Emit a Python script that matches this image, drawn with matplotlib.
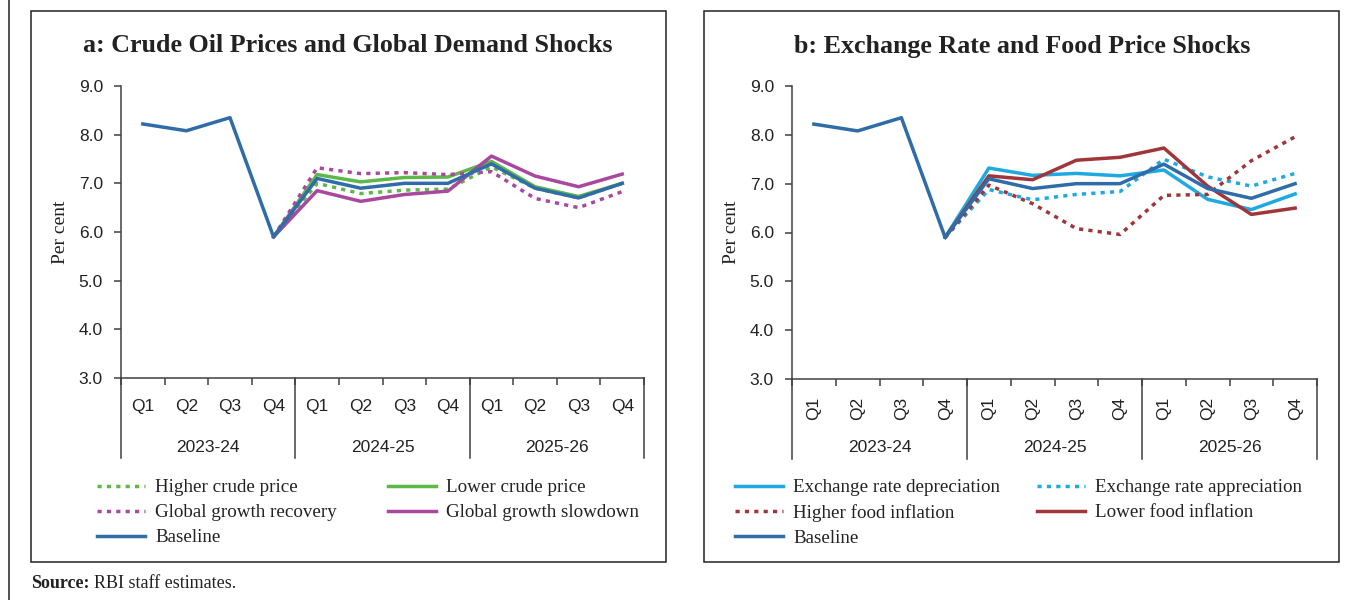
import numpy as np
import matplotlib
matplotlib.use('Agg')
import matplotlib.pyplot as plt
from matplotlib.lines import Line2D
from matplotlib.patches import Rectangle
from matplotlib.ticker import FormatStrFormatter

nan = np.nan

# categories
quarters = ['Q1', 'Q2', 'Q3', 'Q4'] * 3
years = ['2023-24', '2024-25', '2025-26']

# common baseline (per cent)
baseline = [8.22, 8.08, 8.35, 5.90, 7.10, 6.90, 7.00, 7.00, 7.40, 6.90, 6.70, 7.00]

# panel a: crude oil and global demand shocks
higher_crude = [nan, nan, nan, 5.90, 7.00, 6.79, 6.86, 6.88, 7.34, 6.90, 6.70, 7.00]
lower_crude = [nan, nan, nan, 5.90, 7.18, 7.03, 7.12, 7.13, 7.45, 6.93, 6.73, 7.00]
growth_recovery = [nan, nan, nan, 5.90, 7.32, 7.20, 7.22, 7.18, 7.24, 6.69, 6.50, 6.83]
growth_slowdown = [nan, nan, nan, 5.90, 6.85, 6.63, 6.77, 6.84, 7.56, 7.15, 6.93, 7.19]

# panel b: exchange rate and food price shocks
er_depreciation = [nan, nan, nan, 5.90, 7.32, 7.17, 7.21, 7.16, 7.28, 6.68, 6.47, 6.79]
er_appreciation = [nan, nan, nan, 5.90, 6.88, 6.67, 6.78, 6.84, 7.50, 7.14, 6.95, 7.21]
higher_food = [nan, nan, nan, 5.90, 6.97, 6.59, 6.08, 5.96, 6.76, 6.78, 7.47, 7.96]
lower_food = [nan, nan, nan, 5.90, 7.16, 7.08, 7.48, 7.54, 7.73, 6.95, 6.37, 6.50]

W, H = 1358, 600
AXCOL = '#404040'
BLUE = '#2F6CA8'
GREEN = '#5DB947'
PURPLE = '#A9489F'
SKY = '#1FA9E1'
RED = '#A0353A'
SERIF = ['Liberation Serif', 'DejaVu Serif']
NARROW = ['Liberation Sans Narrow', 'Liberation Sans', 'DejaVu Sans']
DOT = (0, (1.2, 1.5))
LW = 2.5

fig = plt.figure(figsize=(W / 100, H / 100), dpi=100)
fig.patch.set_facecolor('white')


def fx(px):
    return px / W


def fy(py):
    return 1 - py / H


def make_axes(left, right, top, bottom):
    ax = fig.add_axes([fx(left), fy(bottom), (right - left) / W, (bottom - top) / H])
    h = bottom - top
    ax.set_xlim(-0.5, 11.5)
    ax.set_ylim(3, 9)
    ax.set_yticks(np.arange(3, 9.5, 1))
    ax.yaxis.set_major_formatter(FormatStrFormatter('%.1f'))
    ax.set_xticks(np.arange(-0.5, 12, 1))
    ax.set_xticklabels([])
    ax.tick_params(axis='x', direction='out', length=5, width=1.1, color=AXCOL)
    ax.tick_params(axis='y', direction='out', length=5, width=1.1, color=AXCOL,
                   labelsize=12.5, pad=8, labelcolor='#222222')
    for lab in ax.get_yticklabels():
        lab.set_family(NARROW)
    for s in ['top', 'right']:
        ax.spines[s].set_visible(False)
    for s in ['left', 'bottom']:
        ax.spines[s].set_color(AXCOL)
        ax.spines[s].set_linewidth(1.1)
    ax.set_ylabel('Per cent', family=SERIF, fontsize=14, color='#222222')
    ax.yaxis.set_label_coords(-52 / (right - left), 0.5)
    return ax, h


def category_axis(ax, h, rotate):
    trans = ax.get_xaxis_transform()
    for i, q in enumerate(quarters):
        ax.text(i, -29 / h, q, transform=trans, ha='center', va='center',
                rotation=90 if rotate else 0, fontsize=12.5, family=NARROW,
                color='#222222')
    for j, yr in enumerate(years):
        ax.text(4 * j + 1.5, -69 / h, yr, transform=trans, ha='center', va='center',
                fontsize=12.5, family=NARROW, color='#222222')
    for xb in [-0.5, 3.5, 7.5, 11.5]:
        ax.plot([xb, xb], [0, -80 / h], transform=trans, clip_on=False,
                color=AXCOL, lw=1.1)


x = np.arange(len(quarters))

# ---- panel a
axa, ha_ = make_axes(121, 644, 86, 378)
category_axis(axa, ha_, False)
la1, = axa.plot(x, higher_crude, color=GREEN, lw=LW, ls=DOT)
la2, = axa.plot(x, lower_crude, color=GREEN, lw=LW)
la3, = axa.plot(x, growth_recovery, color=PURPLE, lw=LW, ls=DOT)
la4, = axa.plot(x, growth_slowdown, color=PURPLE, lw=LW)
la5, = axa.plot(x, baseline, color=BLUE, lw=LW)

# ---- panel b
axb, hb_ = make_axes(792, 1317, 86, 379)
category_axis(axb, hb_, True)
lb1, = axb.plot(x, er_depreciation, color=SKY, lw=LW)
lb2, = axb.plot(x, er_appreciation, color=SKY, lw=LW, ls=DOT)
lb3, = axb.plot(x, higher_food, color=RED, lw=LW, ls=DOT)
lb4, = axb.plot(x, lower_food, color=RED, lw=LW)
lb5, = axb.plot(x, baseline, color=BLUE, lw=LW)

# titles
fig.text(fx(348), fy(46), 'a: Crude Oil Prices and Global Demand Shocks',
         ha='center', va='center', fontsize=18.7, weight='bold', family=SERIF,
         color='#222222')
fig.text(fx(1022), fy(46), 'b: Exchange Rate and Food Price Shocks',
         ha='center', va='center', fontsize=18.7, weight='bold', family=SERIF,
         color='#222222')

# legends, one per column
leg_kw = dict(loc='upper left', frameon=False, prop={'family': SERIF, 'size': 13.7},
              handlelength=2.5, handletextpad=0.55, labelspacing=0.4,
              borderpad=0, borderaxespad=0, labelcolor='#222222')
fig.legend([la1, la3, la5], ['Higher crude price', 'Global growth recovery', 'Baseline'],
           bbox_to_anchor=(fx(97), fy(479)), **leg_kw)
fig.legend([la2, la4], ['Lower crude price', 'Global growth slowdown'],
           bbox_to_anchor=(fx(388), fy(479)), **leg_kw)
fig.legend([lb1, lb3, lb5], ['Exchange rate depreciation', 'Higher food inflation', 'Baseline'],
           bbox_to_anchor=(fx(735), fy(479)), **leg_kw)
fig.legend([lb2, lb4], ['Exchange rate appreciation', 'Lower food inflation'],
           bbox_to_anchor=(fx(1037), fy(479)), **leg_kw)

# panel frames
for left, right in [(31, 666), (704, 1339)]:
    fig.add_artist(Rectangle((fx(left), fy(562)), (right - left) / W, (562 - 11) / H,
                             transform=fig.transFigure, fill=False, ec='#222222', lw=1.1))
fig.add_artist(Line2D([fx(9), fx(9)], [0, 1], transform=fig.transFigure,
                      color='#222222', lw=1.1))

# source note
fig.text(fx(31), fy(583), 'Source:', ha='left', va='center', fontsize=13,
         weight='bold', family=SERIF, color='#222222')
fig.text(fx(94), fy(583), 'RBI staff estimates.', ha='left', va='center', fontsize=13,
         family=SERIF, color='#222222')

fig.savefig('out.png', dpi=100)
